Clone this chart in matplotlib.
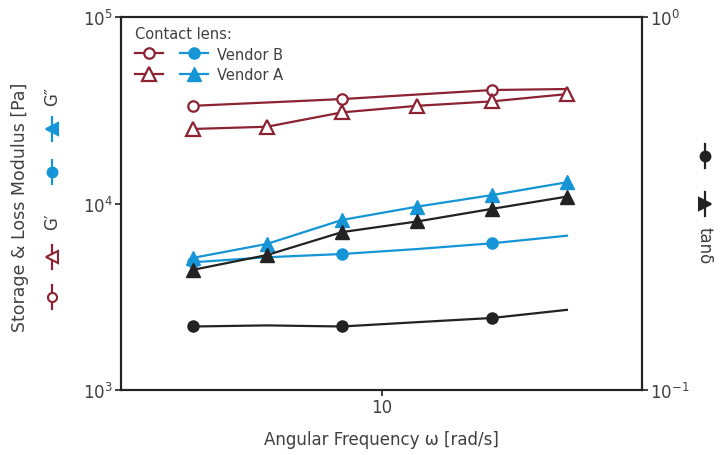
import matplotlib
matplotlib.use("Agg")
import matplotlib.pyplot as plt
from matplotlib.lines import Line2D
from matplotlib.legend_handler import HandlerTuple

plt.rcParams['font.family'] = ['DejaVu Sans']
plt.rcParams['mathtext.default'] = 'regular'

# ---- data ----
freq = [1.89, 3.63, 7.05, 13.7, 26.6, 51.5]
vendorB_Gp = [33400, 34800, 36300, 38400, 40600, 41100]
vendorA_Gp = [25100, 25800, 30800, 33400, 35300, 38600]
vendorB_Gpp = [4840, 5150, 5360, 5700, 6120, 6720]
vendorA_Gpp = [5110, 6070, 8160, 9620, 11100, 13000]
vendorB_tan = [0.148, 0.149, 0.148, 0.152, 0.156, 0.164]
vendorA_tan = [0.210, 0.230, 0.265, 0.283, 0.306, 0.330]
circle_marks = [0, 2, 4]

xticks = [10]
xticklabels = ['10']
yticks_left = [1e3, 1e4, 1e5]
yticklabels_left = ['$10^3$', '$10^4$', '$10^5$']
yticks_right = [0.1, 1]
yticklabels_right = ['$10^{-1}$', '$10^{0}$']

MAROON = '#8c2232'
BLUE = '#1595d6'
BLACK = '#222222'
TXT = '#404040'

W, H = 727, 456
fig = plt.figure(figsize=(W / 100, H / 100), dpi=100)
ax = fig.add_axes([121 / W, 1 - 391 / H, 521 / W, 373 / H])
ax2 = ax.twinx()

lw = 1.6
# left axis series
l_bgp, = ax.plot(freq, vendorB_Gp, color=MAROON, lw=lw, marker='o', ms=7.5,
                 mfc='white', mec=MAROON, mew=1.6, markevery=circle_marks, zorder=3)
l_agp, = ax.plot(freq, vendorA_Gp, color=MAROON, lw=lw, marker='^', ms=9.5,
                 mfc='white', mec=MAROON, mew=1.6, zorder=3)
l_bgpp, = ax.plot(freq, vendorB_Gpp, color=BLUE, lw=lw, marker='o', ms=8,
                  mfc=BLUE, mec=BLUE, markevery=circle_marks, zorder=3)
l_agpp, = ax.plot(freq, vendorA_Gpp, color=BLUE, lw=lw, marker='^', ms=10,
                  mfc=BLUE, mec=BLUE, zorder=4)
# right axis series
ax2.plot(freq, vendorB_tan, color=BLACK, lw=lw, marker='o', ms=8,
         mfc=BLACK, mec=BLACK, markevery=circle_marks)
ax2.plot(freq, vendorA_tan, color=BLACK, lw=lw, marker='^', ms=10,
         mfc=BLACK, mec=BLACK)

ax.set_xscale('log')
ax.set_yscale('log')
ax2.set_yscale('log')
ax.set_xlim(1, 100)
ax.set_ylim(1e3, 1e5)
ax2.set_ylim(0.1, 1)

ax.set_xticks(xticks)
ax.set_xticklabels(xticklabels)
ax.xaxis.set_minor_locator(matplotlib.ticker.NullLocator())
ax.set_yticks(yticks_left)
ax.set_yticklabels(yticklabels_left)
ax.yaxis.set_minor_locator(matplotlib.ticker.NullLocator())
ax2.set_yticks(yticks_right)
ax2.set_yticklabels(yticklabels_right)
ax2.yaxis.set_minor_locator(matplotlib.ticker.NullLocator())

for a in (ax, ax2):
    for s in a.spines.values():
        s.set_color(BLACK)
        s.set_linewidth(1.5)
    a.tick_params(direction='out', length=4, width=1.2, color=BLACK,
                  labelcolor=TXT, labelsize=12, pad=2)

ax.set_xlabel('Angular Frequency ω [rad/s]', fontsize=12, color=TXT, labelpad=10)

# legend
leg = ax.legend([(l_bgp, l_bgpp), (l_agp, l_agpp)], ['Vendor B', 'Vendor A'],
                handler_map={tuple: HandlerTuple(ndivide=None, pad=1.2)},
                handlelength=5.0, handletextpad=0.6, loc='upper left',
                bbox_to_anchor=(0.01, 1.0), frameon=False, fontsize=10.5,
                title='Contact lens:', title_fontsize=10.5, labelspacing=0.4,
                borderaxespad=0.4, borderpad=0.2)
leg._legend_box.align = 'left'
for t in leg.get_texts():
    t.set_color(TXT)
leg.get_title().set_color(TXT)

# left composite axis label
def fx(x):
    return x / W

def fy(y):
    return 1 - y / H

fig.text(fx(20), fy(207), 'Storage & Loss Modulus [Pa]', rotation=90,
         ha='center', va='center', fontsize=12.5, color=TXT)

def icon(x, y, marker, color, filled, ms):
    ln = Line2D([fx(x), fx(x), fx(x)], [fy(y + 12), fy(y), fy(y - 12)],
                transform=fig.transFigure, color=color, lw=1.6,
                marker=marker, markevery=[1], ms=ms,
                mfc=color if filled else 'white', mec=color, mew=1.5)
    fig.add_artist(ln)

icon(52, 298, 'o', MAROON, False, 6.5)
icon(52, 258, '<', MAROON, False, 8.5)
fig.text(fx(52), fy(222), 'G′', rotation=90, ha='center', va='center',
         fontsize=12, color=TXT)
icon(52, 173, 'o', BLUE, True, 7)
icon(52, 130, '<', BLUE, True, 9)
fig.text(fx(52), fy(96), 'G″', rotation=90, ha='center', va='center',
         fontsize=12, color=TXT)

# right composite axis label
icon(705, 157, 'o', BLACK, True, 7)
icon(705, 205, '>', BLACK, True, 9)
fig.text(fx(705), fy(246), 'tanδ', rotation=-90, ha='center', va='center',
         fontsize=12, color=TXT)

fig.savefig('out.png', dpi=100)
